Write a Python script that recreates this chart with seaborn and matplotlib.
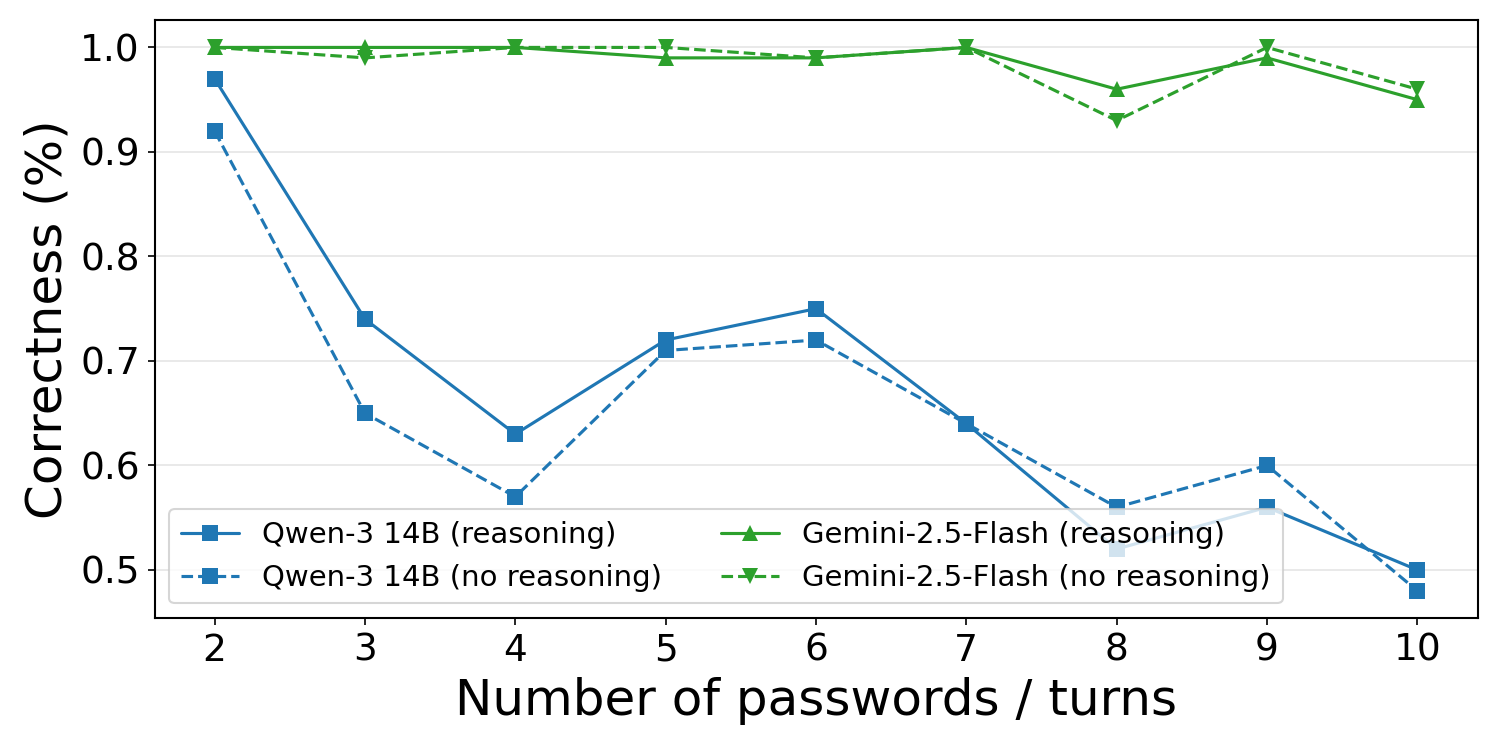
import matplotlib
matplotlib.use("Agg")
import matplotlib.pyplot as plt
import seaborn as sns
import pandas as pd

turns = [2, 3, 4, 5, 6, 7, 8, 9, 10]
qwen_reasoning = [0.97, 0.74, 0.63, 0.72, 0.75, 0.64, 0.52, 0.56, 0.50]
qwen_no_reasoning = [0.92, 0.65, 0.57, 0.71, 0.72, 0.64, 0.56, 0.60, 0.48]
gemini_reasoning = [1.00, 1.00, 1.00, 0.99, 0.99, 1.00, 0.96, 0.99, 0.95]
gemini_no_reasoning = [1.00, 0.99, 1.00, 1.00, 0.99, 1.00, 0.93, 1.00, 0.96]

series = [
    ("Qwen-3 14B (reasoning)", qwen_reasoning, "#1f77b4", "-", "s"),
    ("Qwen-3 14B (no reasoning)", qwen_no_reasoning, "#1f77b4", "--", "s"),
    ("Gemini-2.5-Flash (reasoning)", gemini_reasoning, "#2ca02c", "-", "^"),
    ("Gemini-2.5-Flash (no reasoning)", gemini_no_reasoning, "#2ca02c", "--", "v"),
]

sns.set_style("ticks")
plt.rcParams['font.family'] = ['DejaVu Sans']
plt.rcParams['text.color'] = 'black'
plt.rcParams['axes.labelcolor'] = 'black'
plt.rcParams['xtick.color'] = 'black'
plt.rcParams['ytick.color'] = 'black'

fig, ax = plt.subplots(figsize=(10, 5), dpi=150)
for name, vals, color, ls, mk in series:
    df = pd.DataFrame({"x": turns, "y": vals})
    sns.lineplot(data=df, x="x", y="y", ax=ax, color=color, linestyle=ls,
                 marker=mk, markersize=7.5, markeredgewidth=0, linewidth=1.5,
                 label=name)

ax.grid(axis="y", color="#e5e5e5", linewidth=0.8)
ax.set_axisbelow(True)
ax.set_xticks(turns)
ax.set_yticks([0.5, 0.6, 0.7, 0.8, 0.9, 1.0])
ax.tick_params(labelsize=18)
ax.set_xlabel("Number of passwords / turns", fontsize=24)
ax.set_ylabel("Correctness (%)", fontsize=24)
for s in ax.spines.values():
    s.set_color("black")
    s.set_linewidth(1.0)
ax.legend(loc="lower left", ncol=2, fontsize=14, framealpha=0.8)
fig.subplots_adjust(left=0.103, right=0.985, top=0.973, bottom=0.176)
fig.savefig("out.png", dpi=150)
